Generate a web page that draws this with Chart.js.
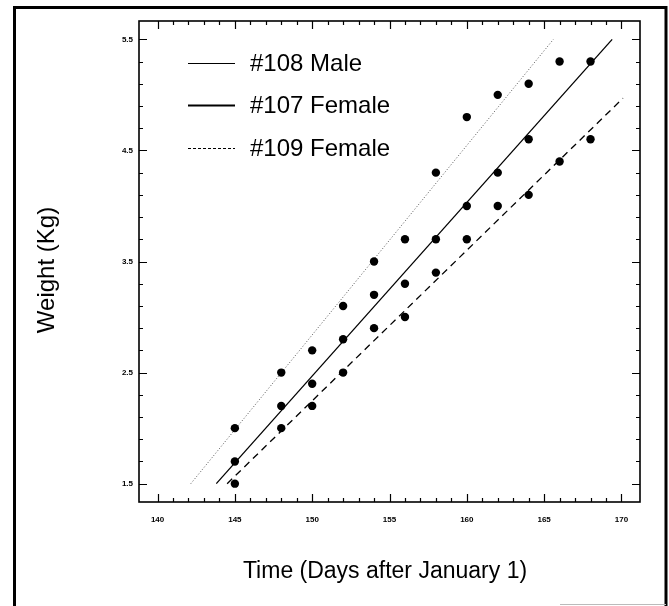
<!DOCTYPE html>
<html>
<head>
<meta charset="utf-8">
<script src="https://cdn.jsdelivr.net/npm/chart.js@4.4.1/dist/chart.umd.min.js"></script>
<style>
  html, body { margin:0; padding:0; background:#fff; }
  #wrap { width:669px; height:606px; }
</style>
</head>
<body>
<div id="wrap"><canvas id="c" width="669" height="606"></canvas></div>
<script>
// ── Data ──────────────────────────────────────────────────
const days      = [145, 148, 150, 152, 154, 156, 158, 160, 162, 164, 166, 168];
const male108   = [2.0, 2.5, 2.7, 3.1, 3.5, 3.7, 4.3, 4.8, 5.0, 5.1];
const female107 = [1.7, 2.2, 2.4, 2.8, 3.2, 3.3, 3.7, 4.0, 4.3, 4.6, 5.3, 5.3];
const female109 = [1.5, 2.0, 2.2, 2.5, 2.9, 3.0, 3.4, 3.7, 4.0, 4.1, 4.4, 4.6];

// fitted lines: [day, kg] end points
const fit108 = [[142.15, 1.5], [165.6, 5.5]];
const fit107 = [[143.8, 1.5], [169.4, 5.5]];
const fit109 = [[144.5, 1.5], [170.1, 4.97]];

const xTicks  = [140,141,142,143,144,145,146,147,148,149,150,151,152,153,154,155,156,157,158,159,160,161,162,163,164,165,166,167,168,169,170];
const xLabels = ['140','145','150','155','160','165','170'];
const yTicks  = [1.5,1.7,1.9,2.1,2.3,2.5,2.7,2.9,3.1,3.3,3.5,3.7,3.9,4.1,4.3,4.5,4.7,4.9,5.1,5.3,5.5];
const yLabels = ['1.5','2.5','3.5','4.5','5.5'];

const legendItems = ['#108 Male', '#107 Female', '#109 Female'];

const FONT = '"Liberation Sans", Arial, Helvetica, sans-serif';

const pts = (xs, ys) => ys.map((y, i) => ({ x: xs[i], y }));
const seg = a => a.map(p => ({ x: p[0], y: p[1] }));

// ── Plugins ───────────────────────────────────────────────
const frame = {
  id: 'frame',
  beforeDraw(chart) {
    const c = chart.ctx;
    c.save();
    c.fillStyle = '#fff';
    c.fillRect(0, 0, chart.width, chart.height);
    c.strokeStyle = '#000';
    c.lineWidth = 3;
    c.beginPath();
    c.moveTo(14.5, 606); c.lineTo(14.5, 7.5); c.lineTo(666, 7.5); c.lineTo(666, 606);
    c.stroke();
    c.strokeStyle = '#bbb'; c.lineWidth = 1;
    c.beginPath(); c.moveTo(560, 604.5); c.lineTo(666, 604.5); c.stroke();
    c.restore();
  },
  afterDraw(chart) {
    const c = chart.ctx, a = chart.chartArea;
    const xs = chart.scales.x, ys = chart.scales.y;
    c.save();
    c.strokeStyle = '#000';
    c.lineWidth = 1.6;
    c.strokeRect(a.left, a.top, a.right - a.left, a.bottom - a.top);
    c.lineWidth = 1.2;
    c.beginPath();
    xs.ticks.forEach(t => {
      const px = Math.round(xs.getPixelForValue(t.value)) + 0.5;
      const len = xLabels.includes(String(t.value)) ? 8 : 4;
      c.moveTo(px, a.bottom); c.lineTo(px, a.bottom - len);
      c.moveTo(px, a.top);    c.lineTo(px, a.top + len);
    });
    ys.ticks.forEach(t => {
      const py = Math.round(ys.getPixelForValue(t.value)) + 0.5;
      const len = yLabels.includes(String(t.value)) ? 8 : 4;
      c.moveTo(a.left, py);  c.lineTo(a.left + len, py);
      c.moveTo(a.right, py); c.lineTo(a.right - len, py);
    });
    c.stroke();

    // axis titles
    c.fillStyle = '#000';
    c.textAlign = 'center';
    c.textBaseline = 'middle';
    c.font = '23px ' + FONT;
    c.fillText('Time (Days after January 1)', 385, 572);
    c.font = '24px ' + FONT;
    c.translate(47, 270);
    c.rotate(-Math.PI / 2);
    c.fillText('Weight (Kg)', 0, 0);
    c.restore();
  }
};

const insideLegend = {
  id: 'insideLegend',
  afterDatasetsDraw(chart) {
    const c = chart.ctx;
    const styles = [
      { w: 1,   dash: [] },
      { w: 2,   dash: [] },
      { w: 1.2, dash: [3, 2] },
    ];
    const rows = [63, 105, 148];
    c.save();
    c.fillStyle = '#000';
    c.strokeStyle = '#000';
    c.font = '24px ' + FONT;
    c.textBaseline = 'middle';
    c.textAlign = 'left';
    legendItems.forEach((label, i) => {
      c.lineWidth = styles[i].w;
      c.setLineDash(styles[i].dash);
      c.beginPath(); c.moveTo(188, rows[i] + 0.5); c.lineTo(235, rows[i] + 0.5); c.stroke();
      c.fillText(label, 250, rows[i] + 1);
    });
    c.restore();
  }
};

// ── Chart ─────────────────────────────────────────────────
const dot = { type: 'scatter', pointRadius: 4.2, pointHoverRadius: 4.2, backgroundColor: '#000', borderWidth: 0, showLine: false };

new Chart(document.getElementById('c'), {
  type: 'scatter',
  data: {
    datasets: [
      { ...dot, label: '#108 Male',   data: pts(days, male108) },
      { ...dot, label: '#107 Female', data: pts(days, female107) },
      { ...dot, label: '#109 Female', data: pts(days, female109) },
      { type: 'line', label: 'fit 108', data: seg(fit108), borderColor: '#555', borderWidth: 1, borderDash: [1, 2], pointRadius: 0, fill: false },
      { type: 'line', label: 'fit 107', data: seg(fit107), borderColor: '#000', borderWidth: 1.3, pointRadius: 0, fill: false },
      { type: 'line', label: 'fit 109', data: seg(fit109), borderColor: '#000', borderWidth: 1.3, borderDash: [7, 5], pointRadius: 0, fill: false },
    ]
  },
  options: {
    responsive: false,
    animation: false,
    layout: { autoPadding: false, padding: { left: 0, top: 21, right: 29, bottom: 0 } },
    plugins: { legend: { display: false }, tooltip: { enabled: false } },
    scales: {
      x: {
        type: 'linear', min: 138.8, max: 171.2,
        afterBuildTicks: s => { s.ticks = xTicks.map(v => ({ value: v })); },
        afterFit: s => { s.height = 104; },
        grid: { display: false, drawTicks: false },
        border: { display: false },
        ticks: {
          autoSkip: false, maxRotation: 0, padding: 13, color: '#000',
          font: { family: FONT, size: 8, weight: 'bold' },
          callback: v => xLabels.includes(String(v)) ? String(v) : ''
        }
      },
      y: {
        type: 'linear', min: 1.335, max: 5.665,
        afterBuildTicks: s => { s.ticks = yTicks.map(v => ({ value: v })); },
        afterFit: s => { s.width = 139; },
        grid: { display: false, drawTicks: false },
        border: { display: false },
        ticks: {
          autoSkip: false, padding: 6, color: '#000',
          font: { family: FONT, size: 8, weight: 'bold' },
          callback: v => yLabels.includes(String(v)) ? String(v) : ''
        }
      }
    }
  },
  plugins: [frame, insideLegend]
});
</script>
</body>
</html>
